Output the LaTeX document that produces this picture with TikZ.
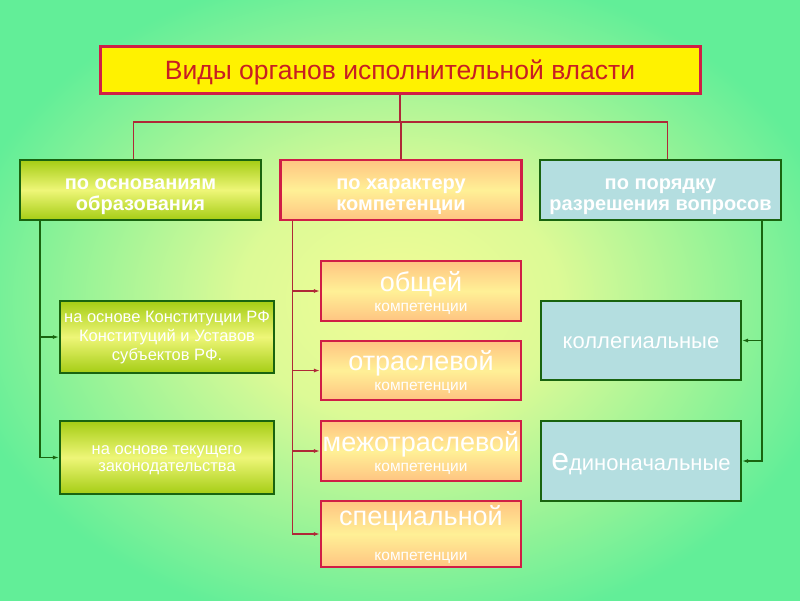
\documentclass[tikz,border=0pt]{standalone}
\usepackage{fontspec}
\setmainfont{Liberation Sans}
\usetikzlibrary{arrows.meta, positioning}
\definecolor{bgmint}{RGB}{98, 238, 152}
\definecolor{bgcream}{RGB}{242, 252, 150}
\definecolor{titlered}{RGB}{208, 30, 70}
\definecolor{titletext}{RGB}{200, 30, 35}
\definecolor{linkred}{RGB}{175, 40, 55}
\definecolor{darkgreen}{RGB}{25, 100, 15}
\definecolor{limeedge}{RGB}{165, 205, 20}
\definecolor{limemid}{RGB}{238, 246, 120}
\definecolor{peachedge}{RGB}{255, 196, 130}
\definecolor{peachmid}{RGB}{255, 240, 150}
\definecolor{paleteal}{RGB}{180, 222, 224}

\pgfdeclareradialshading{bgglow}{\pgfpoint{0bp}{0bp}}{%
  color(0bp)=(bgcream); color(10bp)=(bgcream!85!bgmint);
  color(28bp)=(bgmint); color(50bp)=(bgmint)}

\tikzset{
  headbox/.style={minimum height=60pt, minimum width=241pt, inner sep=0pt,
    align=center, text=white, text height=40pt, text depth=0pt,
    font=\fontsize{20}{21}\selectfont\bfseries},
  limebox/.style={draw=darkgreen, line width=2.2pt, top color=limeedge,
    bottom color=limeedge, middle color=limemid},
  peachbox/.style={draw=titlered, line width=2.2pt, top color=peachedge,
    bottom color=peachedge, middle color=peachmid},
  tealbox/.style={draw=darkgreen, line width=2.2pt, fill=paleteal},
  compbox/.style={peachbox, minimum width=200pt, inner sep=0pt, align=center,
    text=white, text depth=0pt, font=\fontsize{15.5}{20}\selectfont},
  redlink/.style={draw=linkred, line width=1.4pt},
  greenlink/.style={draw=darkgreen, line width=1.4pt},
  tip/.style={-{Latex[length=6pt, width=4pt]}}
}
\newcommand{\bigword}[1]{{\fontsize{27}{20}\selectfont #1}}

\begin{document}
\begin{tikzpicture}[x=1pt, y=-1pt]
  \useasboundingbox (0,0) rectangle (800,600);
  \shade[shading=bgglow] (0,0) rectangle (800,600);

  % title
  \node[draw=titlered, line width=3pt, fill=yellow, minimum width=600pt,
    minimum height=47pt, text=titletext, text depth=0pt,
    font=\fontsize{26.5}{28}\selectfont]
    (title) at (400,70) {Виды органов исполнительной власти};

  % three criteria
  \node[headbox, limebox] (base) at (140.5,190) {по основаниям\\образования};
  \node[headbox, peachbox] (comp) at (401,190) {по характеру\\компетенции};
  \node[headbox, tealbox] (order) at (660.5,190) {по порядку\\разрешения вопросов};

  \coordinate (fork) at (400,122);
  \draw[redlink] (title.south) -- (fork);
  \draw[redlink] ([xshift=-7pt]base.north) |- (fork) -| ([xshift=7pt]order.north);
  \draw[redlink] (comp.north) -- (comp.north |- fork);

  % left column
  \node[limebox, minimum width=214pt, minimum height=72pt, inner sep=0pt,
    align=center, text=white, font=\fontsize{16.5}{19}\selectfont] (base1)
    at (167,337) {на основе Конституции РФ\\Конституций и Уставов\\субъектов РФ.};
  \node[limebox, minimum width=214pt, minimum height=73pt, inner sep=0pt,
    align=center, text=white, text height=27.6pt, text depth=0pt,
    font=\fontsize{16.5}{16.5}\selectfont] (base2)
    at (167,457.5) {на основе текущего\\законодательства};

  \coordinate (bstem) at ([xshift=21pt]base.south west);
  \draw[greenlink, tip] (bstem) |- (base1.west);
  \draw[greenlink, tip] (bstem) |- (base2.west);

  % middle column
  \node[compbox, minimum height=60pt, text height=40pt] (comp1) at (421,291)
    {\bigword{общей}\\компетенции};
  \node[compbox, minimum height=59pt, text height=40pt] (comp2) at (421,370.5)
    {\bigword{отраслевой}\\компетенции};
  \node[compbox, minimum height=60pt, text height=40pt] (comp3) at (421,451)
    {\bigword{межотраслевой}\\компетенции};
  \node[compbox, minimum height=66pt, text height=52pt] (comp4) at (421,534)
    {\bigword{специальной}\\[15pt]компетенции};

  \coordinate (cstem) at ([xshift=13pt]comp.south west);
  \foreach \n in {1,...,4}
    \draw[redlink, tip] (cstem) |- (comp\n.west);

  % right column
  \node[tealbox, minimum width=200pt, minimum height=79pt, text=white,
    text height=16.4pt, text depth=0pt, font=\fontsize{22}{24}\selectfont]
    (order1) at (641,340.5) {коллегиальные};
  \node[tealbox, minimum width=200pt, minimum height=80pt, text=white,
    text height=19.4pt, text depth=0pt, font=\fontsize{22}{24}\selectfont]
    (order2) at (641,461) {{\fontsize{32}{32}\selectfont е}диноначальные};

  \coordinate (ostem) at ([xshift=-20pt]order.south east);
  \draw[greenlink, tip] (ostem) |- (order1.east);
  \draw[greenlink, tip] (ostem) |- (order2.east);
\end{tikzpicture}
\end{document}
